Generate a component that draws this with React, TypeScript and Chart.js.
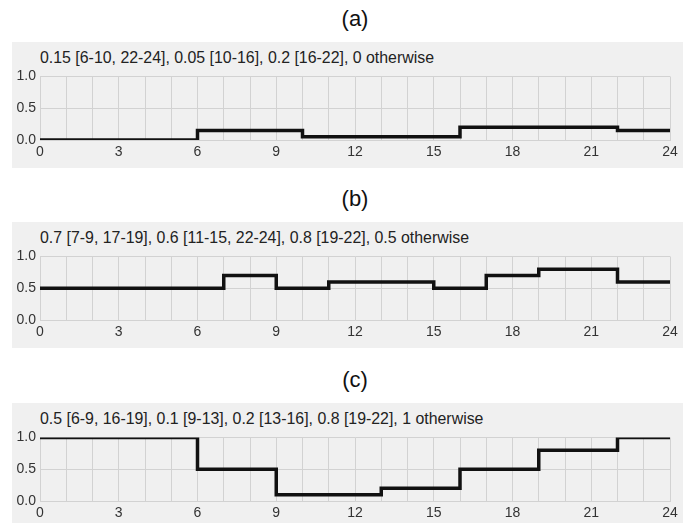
import React, { useEffect, useRef } from "react";
import { Chart, registerables } from "chart.js";

Chart.register(...registerables);

const panelLabels = ["(a)", "(b)", "(c)"];
const subtitles = [
  "0.15 [6-10, 22-24], 0.05 [10-16], 0.2 [16-22], 0 otherwise",
  "0.7 [7-9, 17-19], 0.6 [11-15, 22-24], 0.8 [19-22], 0.5 otherwise",
  "0.5 [6-9, 16-19], 0.1 [9-13], 0.2 [13-16], 0.8 [19-22], 1 otherwise",
];

const breaksA = [0, 6, 10, 16, 22, 24];
const valuesA = [0, 0.15, 0.05, 0.2, 0.15, 0.15];
const breaksB = [0, 7, 9, 11, 15, 17, 19, 22, 24];
const valuesB = [0.5, 0.7, 0.5, 0.6, 0.5, 0.7, 0.8, 0.6, 0.6];
const breaksC = [0, 6, 9, 13, 16, 19, 22, 24];
const valuesC = [1, 0.5, 0.1, 0.2, 0.5, 0.8, 1, 1];

const xMin = 0;
const xMax = 24;
const xStep = 1;
const xLabelEvery = 3;
const yMin = 0;
const yMax = 1;
const yStep = 0.5;

const series = [
  { breaks: breaksA, values: valuesA },
  { breaks: breaksB, values: valuesB },
  { breaks: breaksC, values: valuesC },
];

const boxTops = [42, 222, 403];
const FONT = "'Liberation Sans', Arial, sans-serif";
const GRID = "#d2d2d2";

function Panel({ idx }: { idx: number }) {
  const ref = useRef<HTMLCanvasElement | null>(null);
  useEffect(() => {
    if (!ref.current) return;
    const s = series[idx];
    const pts = s.breaks.map((b, i) => ({ x: b, y: s.values[i] }));
    const chart = new Chart(ref.current, {
      type: "line",
      data: {
        datasets: [
          {
            data: pts,
            stepped: "before",
            borderColor: "#111111",
            borderWidth: 3.5,
            pointRadius: 0,
            fill: false,
          },
        ],
      },
      options: {
        animation: false,
        responsive: false,
        events: [],
        layout: { padding: { left: 0, right: 22, top: 34.5, bottom: 0 } },
        plugins: { legend: { display: false }, tooltip: { enabled: false }, title: { display: false } },
        scales: {
          x: {
            type: "linear",
            min: xMin,
            max: xMax,
            afterFit: (sc: any) => {
              sc.height = 28;
            },
            grid: { color: GRID, drawTicks: false, lineWidth: 1 },
            border: { color: GRID, width: 1 },
            ticks: {
              stepSize: xStep,
              maxTicksLimit: 100,
              autoSkip: false,
              maxRotation: 0,
              padding: 4,
              color: "#333",
              font: { family: FONT, size: 14 },
              callback: (v: any) => (Number(v) % xLabelEvery === 0 ? String(v) : ""),
            },
          },
          y: {
            min: yMin,
            max: yMax,
            afterFit: (sc: any) => {
              sc.width = 40;
            },
            grid: { color: GRID, drawTicks: false, lineWidth: 1 },
            border: { color: GRID, width: 1 },
            ticks: {
              stepSize: yStep,
              padding: 4,
              color: "#333",
              font: { family: FONT, size: 14 },
              callback: (v: any) => Number(v).toFixed(1),
            },
          },
        },
      },
    });
    return () => chart.destroy();
  }, [idx]);

  const top = boxTops[idx];
  return (
    <>
      <div
        style={{
          position: "absolute",
          left: 355,
          top: top - 34,
          transform: "translateX(-50%)",
          fontFamily: FONT,
          fontSize: 22,
          lineHeight: "22px",
          color: "#111",
          whiteSpace: "nowrap",
        }}
      >
        {panelLabels[idx]}
      </div>
      <div
        style={{
          position: "absolute",
          left: 12,
          top: top,
          width: 671,
          height: 126,
          background: "#f0f0f0",
        }}
      />
      <div
        style={{
          position: "absolute",
          left: 40,
          top: top + 8,
          fontFamily: FONT,
          fontSize: 15.9,
          lineHeight: "15.5px",
          color: "#222",
          whiteSpace: "nowrap",
        }}
      >
        {subtitles[idx]}
      </div>
      <canvas
        ref={ref}
        width={692}
        height={126}
        style={{ position: "absolute", left: 0, top: top, width: 692, height: 126 }}
      />
    </>
  );
}

export default function App() {
  return (
    <div
      style={{
        position: "fixed",
        left: 0,
        top: 0,
        width: 692,
        height: 523,
        overflow: "hidden",
        background: "#ffffff",
      }}
    >
      {[0, 1, 2].map((i) => (
        <Panel key={i} idx={i} />
      ))}
    </div>
  );
}
